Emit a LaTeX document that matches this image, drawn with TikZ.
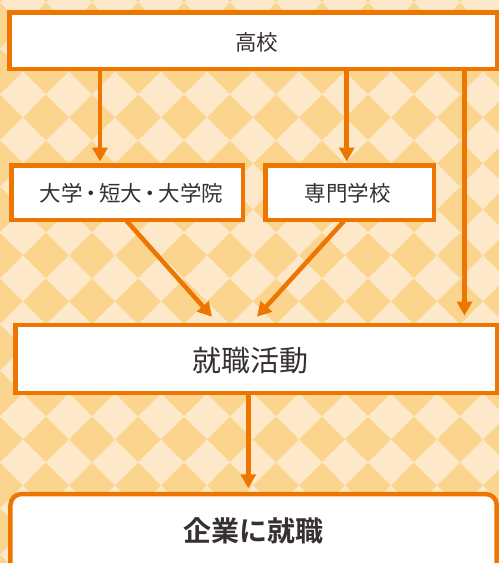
\documentclass[tikz,border=0pt]{standalone}
\usepackage{fontspec}
\newfontfamily\jp{Noto Sans CJK JP}
\newfontfamily\jpb{Noto Sans CJK JP Bold}
\usetikzlibrary{arrows.meta}
\definecolor{orng}{RGB}{238,118,0}
\definecolor{bglight}{RGB}{253,233,201}
\definecolor{bgdark}{RGB}{251,212,141}
\definecolor{txt}{RGB}{55,48,48}
\newcommand{\nbdot}{\hspace{-2.5pt}・\hspace{-2.5pt}}
\tikzset{
  box/.style={draw=orng, line width=4.5pt, fill=white, rectangle, inner sep=0pt},
  arr/.style={draw=orng, line width=4.5pt, -{Triangle[width=15pt,length=14pt]}},
  lbl/.style={text=txt, font=\jp\fontsize{21.5pt}{26pt}\selectfont, inner sep=0pt},
}
\begin{document}
\begin{tikzpicture}[x=1pt,y=-1pt]
\useasboundingbox (0,0) rectangle (499,563);
\begin{scope}
\clip (0,0) rectangle (499,563);
\fill[bgdark] (0,0) rectangle (499,563);
\foreach \k in {-1,...,11}{
  \foreach \l in {-1,...,13}{
    \fill[bglight] ({23+46*\k},{2.3+46*\l-23}) -- ++(23,23) -- ++(-23,23) -- ++(-23,-23) -- cycle;
  }
}
% boxes
\node[box, minimum width=487.5pt, minimum height=56.5pt] (b1) at (253,40.5) {};
\node[box, minimum width=231.5pt, minimum height=54.5pt] (b2) at (127,192.5) {};
\node[box, minimum width=168.5pt, minimum height=54.5pt] (b3) at (349.5,192.5) {};
\node[box, minimum width=481.5pt, minimum height=68pt] (b4) at (256,358.75) {};
\node[box, rounded corners=11pt, minimum width=486.25pt, minimum height=90pt] (b5) at (253.6,539) {};
\end{scope}
% texts
\node[lbl] (t1) at (256.5,42) {高校};
\node[lbl] (t2) at (131.5,193) {大学\nbdot 短大\nbdot 大学院};
\node[lbl] (t3) at (347.5,193) {専門学校};
\node[lbl, font=\jp\fontsize{29pt}{33pt}\selectfont] (t4) at (250,361) {就職活動};
\node[lbl, font=\jpb\fontsize{28pt}{32pt}\selectfont] (t5) at (253.5,531) {企業に就職};
% connector coordinates
\coordinate (x1) at (100,0);
\coordinate (x2) at (346.7,0);
\coordinate (x3) at (464.5,0);
\coordinate (x4) at (248.3,0);
\coordinate (d1s) at (126.7,221);
\coordinate (d1e) at (212,316.7);
\coordinate (d2s) at (344,221);
\coordinate (d2e) at (257,316.7);
% arrows
\draw[arr, shorten >=1.5pt] (b1.south -| x1) -- (b2.north -| x1);
\draw[arr, shorten >=1.5pt] (b1.south -| x2) -- (b3.north -| x2);
\draw[arr, shorten >=7pt] (b1.south -| x3) -- (b4.north -| x3);
\draw[arr] (d1s) -- (d1e);
\draw[arr] (d2s) -- (d2e);
\draw[arr, shorten >=3.5pt] (b4.south -| x4) -- (b5.north -| x4);
\end{tikzpicture}
\end{document}
